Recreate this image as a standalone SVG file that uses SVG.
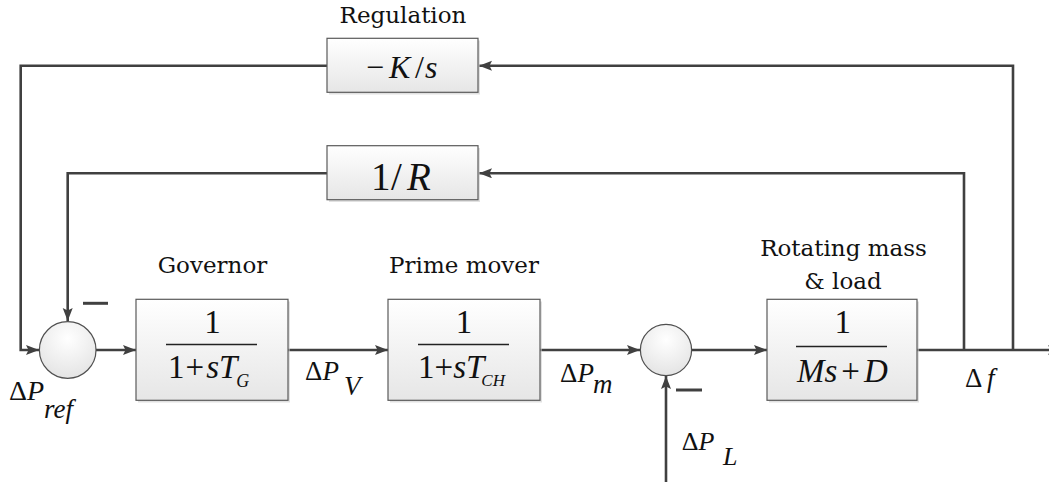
<svg xmlns="http://www.w3.org/2000/svg" width="1049" height="482" viewBox="0 0 1049 482">
<style>
.box{fill:url(#boxg);stroke:#5a5a5a;stroke-width:1.2}
.shadow{fill:#c8c8c8;opacity:0.55}
.sum{fill:url(#sumg);stroke:#505050;stroke-width:1.2}
.wire{fill:none;stroke:#404040;stroke-width:2.6}
.arr{marker-end:url(#ah)}
.lbl{font-family:"DejaVu Serif","Liberation Serif",serif;font-size:23px;fill:#111;text-anchor:middle}
.m{font-family:"Liberation Serif","Times New Roman",serif;fill:#111}
.i{font-style:italic}
.minus{stroke:#404040;stroke-width:3}
</style>
<defs>
<linearGradient id="boxg" x1="0" y1="0" x2="0" y2="1">
<stop offset="0" stop-color="#ffffff"/>
<stop offset="1" stop-color="#e6e6e6"/>
</linearGradient>
<radialGradient id="sumg" cx="0.5" cy="0.3" r="0.7">
<stop offset="0" stop-color="#ffffff"/>
<stop offset="1" stop-color="#e4e4e4"/>
</radialGradient>
<marker id="ah" markerUnits="userSpaceOnUse" markerWidth="14" markerHeight="12" refX="13" refY="5" orient="auto">
<path d="M0,0 L13,5 L0,10 L2.5,5 z" fill="#404040"/>
</marker>
</defs>

<g id="connectors">
<path class="wire arr" d="M1013,350 V65.7 H479"/>
<path class="wire arr" d="M327,65.7 H20.7 V350 H39"/>
<path class="wire arr" d="M964,350 V173.3 H479"/>
<path class="wire arr" d="M327,173.3 H67.7 V321"/>
<path class="wire arr" d="M96,350 H136"/>
<path class="wire arr" d="M288,350 H388"/>
<path class="wire arr" d="M540,350 H640"/>
<path class="wire arr" d="M691.5,350 H767"/>
<path class="wire arr" d="M917,350 H1061"/>
<path class="wire arr" d="M666,482 V376"/>
</g>

<g id="regulation">
<rect class="shadow" x="329" y="40.5" width="151" height="54"/>
<rect class="box" x="327" y="38.3" width="151" height="54"/>
<text class="lbl" x="403" y="22.7">Regulation</text>
<text class="m" font-size="32" y="78"><tspan x="366">−</tspan><tspan class="i" x="389">K</tspan><tspan x="415">/</tspan><tspan class="i" x="425">s</tspan></text>
</g>

<g id="droop">
<rect class="shadow" x="329" y="148" width="151" height="54"/>
<rect class="box" x="327" y="145.7" width="151" height="54"/>
<text class="m" font-size="39" y="190"><tspan x="371">1</tspan><tspan x="391">/</tspan><tspan class="i" x="407">R</tspan></text>
</g>

<g id="sum1">
<circle class="sum" cx="67.7" cy="350" r="28.3"/>
<line class="minus" x1="83" y1="303.3" x2="108" y2="303.3"/>
<text class="m" font-size="28" y="400"><tspan x="9">Δ</tspan><tspan class="i">P</tspan></text>
<text class="m i" font-size="27" x="44" y="418">ref</text>
</g>

<g id="governor">
<rect class="shadow" x="138" y="301.5" width="152" height="101"/>
<rect class="box" x="136" y="299.3" width="152" height="101"/>
<text class="lbl" x="212.5" y="272.7">Governor</text>
<text class="m" font-size="33" x="212.5" y="333" text-anchor="middle">1</text>
<line x1="166" y1="344.5" x2="257" y2="344.5" stroke="#222" stroke-width="1.4"/>
<text class="m" font-size="33" y="378"><tspan x="168">1</tspan><tspan dx="1">+</tspan><tspan class="i" dx="2">s</tspan><tspan class="i">T</tspan><tspan class="i" font-size="18" dy="9" dx="-1">G</tspan></text>
<text class="m" font-size="27" y="380"><tspan x="305">Δ</tspan><tspan class="i">P</tspan></text>
<text class="m i" font-size="27" x="344" y="395">V</text>
</g>

<g id="primemover">
<rect class="shadow" x="390" y="301.5" width="152" height="101"/>
<rect class="box" x="388" y="299.3" width="152" height="101"/>
<text class="lbl" x="464" y="272.7">Prime mover</text>
<text class="m" font-size="33" x="464" y="333" text-anchor="middle">1</text>
<line x1="418" y1="344.5" x2="509" y2="344.5" stroke="#222" stroke-width="1.4"/>
<text class="m" font-size="33" y="378"><tspan x="418">1</tspan><tspan>+</tspan><tspan class="i">s</tspan><tspan class="i">T</tspan><tspan class="i" font-size="17" dy="8" dx="-3">CH</tspan></text>
<text class="m" font-size="27" y="381.7"><tspan x="560">Δ</tspan><tspan class="i">P</tspan></text>
<text class="m i" font-size="27" x="593" y="393">m</text>
</g>

<g id="sum2">
<circle class="sum" cx="666" cy="350" r="25.6"/>
<line class="minus" x1="676" y1="390" x2="702" y2="390"/>
<text class="m" font-size="26" y="450"><tspan x="681.7">Δ</tspan><tspan class="i">P</tspan></text>
<text class="m i" font-size="26" x="723" y="465">L</text>
</g>

<g id="rotatingmass">
<rect class="shadow" x="769" y="301.5" width="150" height="101"/>
<rect class="box" x="767" y="299.3" width="150" height="101"/>
<text class="lbl" x="843.5" y="256">Rotating mass</text>
<text class="lbl" x="843" y="289">&amp; load</text>
<text class="m" font-size="33" x="842.7" y="333" text-anchor="middle">1</text>
<line x1="796" y1="346.5" x2="887" y2="346.5" stroke="#222" stroke-width="1.4"/>
<text class="m" font-size="33" y="381.7"><tspan class="i" x="797">M</tspan><tspan class="i">s</tspan><tspan dx="4">+</tspan><tspan class="i" dx="4">D</tspan></text>
<text class="m" font-size="27" y="386.7"><tspan x="965">Δ</tspan><tspan class="i" x="987">f</tspan></text>
</g>
</svg>
